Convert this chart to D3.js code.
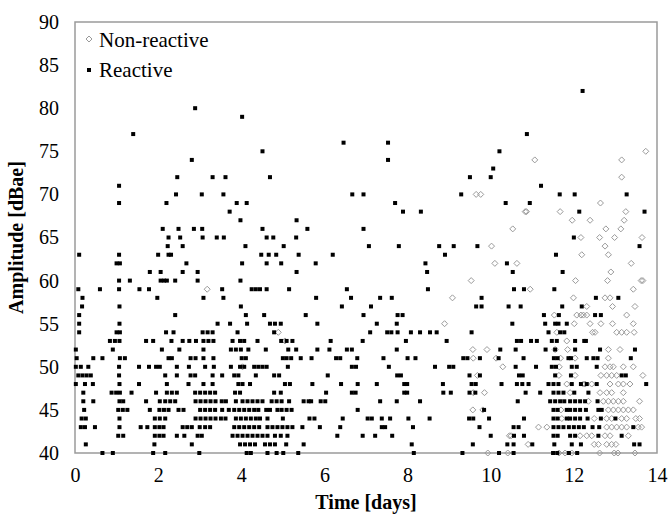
<!DOCTYPE html>
<html><head><meta charset="utf-8">
<script src="https://cdn.jsdelivr.net/npm/d3@7"></script>
<style>html,body{margin:0;padding:0;background:#fff;}</style>
</head><body>
<svg id="chart" width="671" height="518"></svg>
<script>
// Tick values
const xTicks = [0, 2, 4, 6, 8, 10, 12, 14];
const yTicks = [40, 45, 50, 55, 60, 65, 70, 75, 80, 85, 90];
const seriesNames = ["Non-reactive", "Reactive"];

// Reactive events: [amplitude dBae, [times in days]]
const reactiveRows = [
 [82,[12.21]],
 [80,[2.89]],
 [79,[4.02]],
 [77,[1.40,10.87]],
 [76,[6.46,7.53]],
 [75,[4.51,10.21]],
 [74,[2.81,7.53]],
 [73,[10.06]],
 [72,[2.46,3.31,3.62,4.69,9.50,10.0]],
 [71,[1.06,11.21]],
 [70,[2.43,3.05,3.57,6.67,6.94,9.29,11.66,12.02,13.27]],
 [69,[1.06,2.20,3.89,4.13,7.70,10.36,10.94]],
 [68,[3.72,7.89,8.32,12.13,13.70]],
 [67,[3.98,5.33]],
 [66,[2.11,2.49,2.86,3.06,4.51,5.59,6.94]],
 [65,[2.25,2.53,3.07,3.41,3.58,4.61,4.77,5.32,12.0]],
 [64,[2.23,2.59,4.10,5.02,7.07,7.79,8.76,9.11,9.68,13.58]],
 [63,[0.10,1.06,2.0,2.25,2.31,4.48,4.66,4.84,5.38,6.2,8.90,11.57]],
 [62,[1.0,1.08,2.68,4.02,4.61,4.96,5.79,8.43,10.39]],
 [61,[1.80,2.06,2.59,2.95,5.33,8.47,10.53,11.73]],
 [60,[1.06,1.32,2.06,2.14,2.21,2.41,2.95,3.98]],
 [59,[0.08,0.60,1.06,1.55,1.78,3.54,4.25,4.35,4.45,4.61,5.15,6.54,8.49,10.56,10.80,11.53]],
 [58,[0.18,1.98,3.09,3.57,5.80,6.64,7.34,7.62,9.78,12.53,13.07]],
 [57,[0.17,1.07,3.99,6.42,7.12,9.65,9.78,10.43,10.72,11.72,12.19]],
 [56,[0.10,2.41,4.11,4.55,5.55,6.94,7.76,7.88,11.28,11.64,12.51,12.65]],
 [55,[0.10,1.07,3.43,3.73,4.14,4.69,4.81,4.95,5.83,7.26,7.74,10.52,11.31,11.55,11.63,11.83]],
 [54,[0.10,1.0,1.08,2.19,2.37,3.07,3.19,3.31,3.91,4.79,7.10,7.51,7.61,7.76,8.08,8.30,8.54,8.70,9.54,11.39,11.67,11.77]],
 [53,[0.84,0.96,1.07,1.71,1.88,2.32,2.59,2.75,2.91,3.09,3.21,3.33,3.79,3.97,4.07,4.39,4.96,5.09,5.23,6.15,6.92,7.96,8.94,10.63,10.73,10.97,11.11,11.47,11.59,12.03,12.25,12.29]],
 [52,[0.02,0.91,2.09,2.51,3.09,3.75,3.87,3.99,4.17,4.59,5.13,5.32,5.83,6.12,6.54,6.66,7.74,10.23,10.60,11.32,11.55,12.03,12.63,13.47]],
 [51,[0.04,0.44,0.66,1.08,1.20,2.25,2.33,2.78,2.90,3.09,3.33,4.01,4.11,5.0,5.09,5.2,5.43,5.69,6.28,6.38,6.79,7.42,8.0,8.19,9.34,9.44,9.74,10.19,10.79,11.52,11.61,11.87,11.93,12.31,12.47,12.57,13.37]],
 [50,[0.02,0.14,0.32,1.06,1.54,1.78,1.95,2.04,2.45,2.74,3.13,3.34,3.75,3.97,4.07,4.31,4.41,4.51,4.61,5.12,6.66,6.76,7.55,8.66,9.0,9.1,10.6,11.09,11.47,11.57,11.95,12.07,12.55]],
 [49,[0.08,0.18,0.28,0.38,1.06,2.17,2.45,2.78,2.89,3.31,3.54,3.83,3.93,4.35,4.79,4.91,6.08,7.75,7.84,9.49,9.74,10.68,10.77,11.55,11.93,13.15,13.25]],
 [48,[0.02,0.24,0.43,1.07,1.54,2.21,2.73,3.09,3.31,3.93,4.03,4.21,5.05,5.17,5.71,6.40,6.80,7.26,7.92,7.99,8.85,9.54,9.64,10.26,10.63,10.76,10.91,11.39,11.51,11.63,11.95,12.17,12.31,12.55,13.74]],
 [47,[0.2,0.88,0.99,1.08,1.36,1.95,2.21,2.33,2.45,2.89,3.01,3.13,3.25,3.37,3.85,3.97,4.79,4.95,6.04,6.66,6.75,7.92,7.99,8.86,9.04,9.49,9.63,10.84,11.19,11.51,11.63,11.75,12.01,12.35]],
 [46,[0.2,0.44,1.07,1.16,1.71,2.04,2.17,2.29,2.41,2.90,3.02,3.14,3.26,3.38,3.53,3.63,3.87,4.03,4.15,4.27,4.39,4.51,4.73,4.85,4.97,5.15,5.5,5.62,5.68,5.91,6.02,7.34,7.74,8.30,10.65,11.43,11.55,11.67,11.77,11.91,12.03,12.15,12.27,12.57]],
 [45,[0.22,1.04,1.15,1.26,1.8,2.03,2.14,2.25,2.49,2.61,3.01,3.13,3.25,3.37,3.54,3.70,3.83,3.95,4.07,4.19,4.31,4.41,4.60,4.69,4.87,4.97,5.09,5.21,6.80,9.84,11.51,11.61,11.83,11.91,12.03,12.15,12.29,12.59,12.67]],
 [44,[0.16,0.26,1.07,1.92,2.04,2.17,2.90,3.02,3.14,3.26,3.38,3.51,3.62,3.87,3.99,4.11,4.23,4.35,4.45,4.63,5.0,5.64,5.76,6.44,7.04,7.14,7.38,7.58,8.02,8.53,9.48,9.58,9.96,10.80,11.51,11.61,11.83,11.91,12.03,12.15,12.33,12.65,13.0]],
 [43,[0.14,0.24,0.48,1.07,1.58,1.74,1.92,2.03,2.13,2.59,2.70,2.81,3.0,3.13,3.25,3.83,3.95,4.07,4.19,4.31,4.43,4.63,4.75,4.87,4.99,5.11,5.23,5.47,5.89,6.38,7.38,7.46,8.13,9.73,10.55,10.67,11.51,11.63,11.75,11.88,12.0,12.12,12.24,12.45,12.61,13.43]],
 [42,[1.04,1.16,1.92,2.03,2.13,2.45,2.63,2.95,3.05,3.79,3.91,4.03,4.15,4.27,4.39,4.51,4.63,4.81,4.95,5.11,6.31,6.92,7.22,7.63,10.0,10.56,10.80,11.51,11.61,11.91,12.03,12.59,13.15]],
 [41,[0.26,1.91,2.81,3.97,4.09,4.21,4.33,4.57,4.69,4.81,5.08,5.50,8.10,9.57,10.40,10.55,11.0,11.53,11.95,12.17,13.45,13.58]],
 [40,[0.66,0.91,1.88,2.17,2.99,4.13,4.23,4.63,4.85,5.01,5.37,8.15,9.32,10.2,10.55,11.5,11.6,11.88,12.08]]
];

// Non-reactive events: [amplitude dBae, [times in days]]
const nonReactiveRows = [
 [75,[13.73]],
 [74,[11.06,13.15]],
 [72,[13.15]],
 [70,[9.65,9.76]],
 [69,[12.64]],
 [68,[10.83,10.86,11.67,13.25]],
 [67,[11.96,12.39,13.21]],
 [66,[10.53,12.77,13.13]],
 [65,[12.17,12.62,12.98,13.64]],
 [64,[10.02,12.75]],
 [63,[12.19,12.83]],
 [62,[10.10,10.63,13.38]],
 [61,[12.89]],
 [60,[9.53,12.04,12.81,13.62,13.66]],
 [59,[3.18,10.95,13.43]],
 [58,[9.08,11.99,12.75,12.87]],
 [57,[12.31,12.93,13.47]],
 [56,[11.53,12.07,12.17,12.23,12.31,13.27]],
 [55,[8.89,12.01,12.39,12.65,12.93,13.43]],
 [54,[4.89,11.59,12.45,12.51,13.03,13.15,13.27,13.45]],
 [53,[5.05,11.83]],
 [52,[9.57,9.91,11.55,11.85,12.83,13.11]],
 [51,[9.58,10.13,11.68,12.03,12.83]],
 [50,[4.03,10.29,11.65,12.75,12.87,12.95,13.19,13.43]],
 [49,[9.68,11.64,12.03,12.65,12.79,12.91,13.03,13.66]],
 [48,[11.83,12.23,12.27,12.43,12.87,13.07,13.19,13.35]],
 [47,[9.58,9.85,11.91,12.63,12.79,12.91,13.19]],
 [46,[12.35,12.71,12.83,12.95,13.07,13.19,13.58]],
 [45,[9.57,9.81,11.69,12.83,12.95,13.07,13.19,13.31,13.43]],
 [44,[11.71,12.49,12.79,12.91,13.15,13.27,13.49,13.58]],
 [43,[11.15,11.35,12.79,12.91,13.03,13.15,13.27,13.55,13.63]],
 [42,[10.45,10.49,12.15,12.31,12.43,12.75,12.87,13.31]],
 [41,[10.90,12.49,12.59,12.79,12.91,13.01]],
 [40,[9.93,10.41,11.64,11.79,11.95,12.62,12.97,13.06,13.47]]
];

const flatten = rows => rows.flatMap(([a, ts]) => ts.map(t => ({t, a})));
const reactive = flatten(reactiveRows);
const nonReactive = flatten(nonReactiveRows);

const svg = d3.select("#chart");
const L = 75, R = 657, T = 22, B = 453;
const x = d3.scaleLinear().domain([0, 14]).range([L, R]);
const y = d3.scaleLinear().domain([40, 90]).range([B, T]);
const serif = "'Liberation Serif','Times New Roman',serif";
const diamond = "M0,-3L3,0L0,3L-3,0Z";

// Axes
const gx = svg.append("g").attr("transform", `translate(0,${B})`)
  .call(d3.axisBottom(x).tickValues(xTicks).tickSize(0).tickPadding(15).tickFormat(d3.format("d")));
const gy = svg.append("g").attr("transform", `translate(${L},0)`)
  .call(d3.axisLeft(y).tickValues(yTicks).tickSize(0).tickPadding(16).tickFormat(d3.format("d")));
[gx, gy].forEach(g => {
  g.select(".domain").remove();
  g.selectAll("text").attr("font-family", serif).attr("font-size", 20).attr("fill", "#000");
});

// Plot border
svg.append("rect").attr("x", L).attr("y", T).attr("width", R - L).attr("height", B - T)
  .attr("fill", "none").attr("stroke", "#9a9a9a").attr("stroke-width", 1.5);

// Series
svg.append("g").selectAll("path").data(nonReactive).join("path")
  .attr("d", diamond)
  .attr("transform", d => `translate(${x(d.t)},${y(d.a)})`)
  .attr("fill", "none").attr("stroke", "#9a9a9a").attr("stroke-width", 1);

svg.append("g").selectAll("rect").data(reactive).join("rect")
  .attr("x", d => x(d.t) - 2).attr("y", d => y(d.a) - 2)
  .attr("width", 4).attr("height", 4).attr("fill", "#000");

// Axis titles
svg.append("text").attr("x", (L + R) / 2).attr("y", 509).attr("text-anchor", "middle")
  .attr("font-family", serif).attr("font-weight", "bold").attr("font-size", 20).text("Time [days]");
svg.append("text").attr("transform", `translate(23,${(T + B) / 2}) rotate(-90)`).attr("text-anchor", "middle")
  .attr("font-family", serif).attr("font-weight", "bold").attr("font-size", 20).text("Amplitude [dBae]");

// Legend
const lg = svg.append("g");
lg.append("path").attr("d", diamond).attr("transform", "translate(89,39)")
  .attr("fill", "none").attr("stroke", "#9a9a9a").attr("stroke-width", 1);
lg.append("text").attr("x", 99).attr("y", 46.5).attr("font-family", serif).attr("font-size", 21).text(seriesNames[0]);
lg.append("rect").attr("x", 87).attr("y", 68).attr("width", 4).attr("height", 4).attr("fill", "#000");
lg.append("text").attr("x", 99).attr("y", 77).attr("font-family", serif).attr("font-size", 21).text(seriesNames[1]);
</script>
</body></html>
